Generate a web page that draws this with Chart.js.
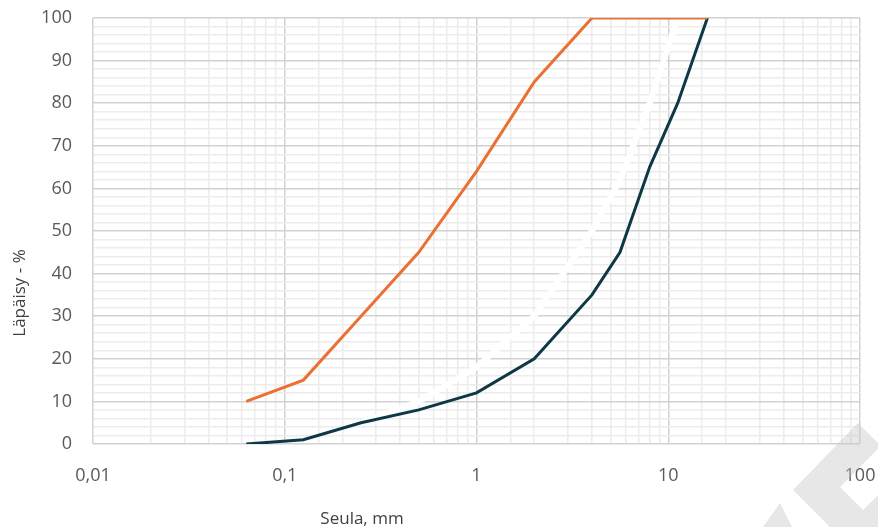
<!DOCTYPE html>
<html>
<head>
<meta charset="utf-8">
<script src="https://cdn.jsdelivr.net/npm/chart.js@4"></script>
<style>
  html, body { margin: 0; padding: 0; background: #fff; }
  #wrap { position: relative; width: 878px; height: 527px; }
  .title { position: absolute; font-family: "Open Sans", sans-serif; font-size: 17px; color: #404040; white-space: nowrap; }
  #xTitle { left: 362px; top: 517px; transform: translate(-50%, -50%); }
  #yTitle { left: 18px; top: 293px; transform: translate(-50%, -50%) rotate(-90deg); }
  #mark { position: absolute; left: 0; top: 0; pointer-events: none; }
</style>
</head>
<body>
<div id="wrap">
  <canvas id="chart" width="878" height="527"></canvas>
  <div class="title" id="xTitle">Seula, mm</div>
  <div class="title" id="yTitle">Läpäisy - %</div>
  <svg id="mark" width="878" height="527">
    <polygon points="763,527 780,503 792,527" fill="rgba(195,195,195,0.4)"/>
    <path fill-rule="evenodd" fill="rgba(195,195,195,0.4)"
      d="M830,527 L793,490 L858,423 L878,443 L878,527 Z M840,487 L878,449 L878,495 L863,510 Z"/>
  </svg>
</div>
<script>
  // sieve sizes (mm) and passing percentages
  const sieves = [0.063, 0.125, 0.25, 0.5, 1, 2, 4, 5.6, 8, 11.2, 16];
  const upperLimit = [10, 15, 30, 45, 64, 85, 100, 100, 100, 100, 100];
  const lowerLimit = [0, 1, 5, 8, 12, 20, 35, 45, 65, 80, 100];
  const midCurve = [null, null, 5, 10, 18, 30, 50, 62, 80, 100, 100];
  const xTickLabels = { 0.01: "0,01", 0.1: "0,1", 1: "1", 10: "10", 100: "100" };

  function toPoints(values) {
    return sieves.map((s, i) => ({ x: s, y: values[i] }));
  }

  function isDecade(v) {
    const l = Math.log10(v);
    return Math.abs(l - Math.round(l)) < 1e-6;
  }

  // keep the plot area fixed: no extra padding from tick labels
  function noPad(scale) {
    scale.paddingTop = 0;
    scale.paddingBottom = 0;
    scale.paddingLeft = 0;
    scale.paddingRight = 0;
  }

  const ctx = document.getElementById("chart").getContext("2d");
  new Chart(ctx, {
    type: "line",
    data: {
      datasets: [
        {
          label: "Yläraja",
          data: toPoints(upperLimit),
          borderColor: "#E97132",
          borderWidth: 3,
          pointRadius: 0,
          tension: 0,
        },
        {
          label: "Alaraja",
          data: toPoints(lowerLimit),
          borderColor: "#0F3845",
          borderWidth: 3,
          pointRadius: 0,
          tension: 0,
        },
        {
          label: "Käyrä",
          data: toPoints(midCurve),
          borderColor: "#ffffff",
          borderWidth: 6,
          pointRadius: 0,
          tension: 0,
        },
      ],
    },
    options: {
      responsive: false,
      animation: false,
      layout: { padding: { top: 18, right: 18, left: 0, bottom: 0 } },
      plugins: { legend: { display: false }, tooltip: { enabled: false } },
      scales: {
        x: {
          type: "logarithmic",
          min: 0.01,
          max: 100,
          afterFit: (scale) => { scale.height = 83; noPad(scale); },
          border: { display: false },
          grid: {
            drawTicks: false,
            lineWidth: 1.5,
            color: (c) => (isDecade(c.tick.value) ? "#d2d2d2" : "#ececec"),
          },
          ticks: {
            autoSkip: false,
            maxRotation: 0,
            padding: 21,
            color: "#595959",
            font: { family: "Open Sans", size: 18 },
            callback: (v) => {
              for (const k in xTickLabels) {
                if (Math.abs(Number(k) - v) < 1e-9) return xTickLabels[k];
              }
              return "";
            },
          },
        },
        y: {
          min: 0,
          max: 100,
          afterFit: (scale) => { scale.width = 93; noPad(scale); },
          border: { display: false },
          grid: {
            drawTicks: false,
            lineWidth: 1.5,
            color: (c) => (c.tick.value % 10 === 0 ? "#d2d2d2" : "#ececec"),
          },
          ticks: {
            stepSize: 2,
            autoSkip: false,
            padding: 21,
            color: "#595959",
            font: { family: "Open Sans", size: 18 },
            callback: (v) => (v % 10 === 0 ? String(v) : ""),
          },
        },
      },
    },
  });
</script>
</body>
</html>
